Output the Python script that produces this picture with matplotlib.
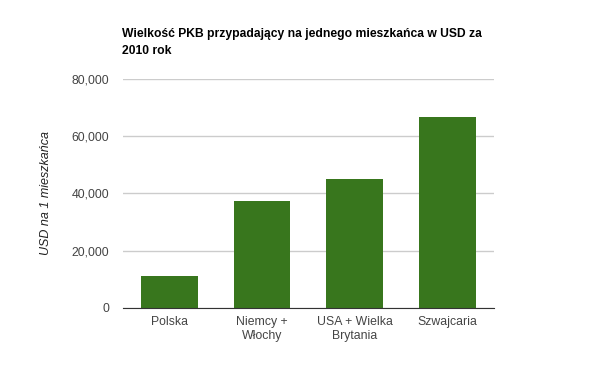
import matplotlib
matplotlib.use("Agg")
import matplotlib.pyplot as plt
from matplotlib.ticker import FuncFormatter

plt.rcParams['font.family'] = ['Liberation Sans', 'DejaVu Sans']

categories = ["Polska", "Niemcy +\nWłochy", "USA + Wielka\nBrytania", "Szwajcaria"]
values = [11200, 37350, 45000, 66800]
yticks = [0, 20000, 40000, 60000, 80000]

fig = plt.figure(figsize=(6, 3.71), dpi=100)
ax = fig.add_axes([0.205, 0.17, 0.618, 0.617])

ax.bar(range(len(categories)), values, 0.613, color="#38761d", zorder=3)

ax.set_xlim(-0.5, len(categories) - 0.5)
ax.set_ylim(0, 80000)
ax.set_yticks(yticks)
ax.yaxis.set_major_formatter(FuncFormatter(lambda v, p: f"{int(v):,}"))
ax.set_xticks(range(len(categories)))
ax.set_xticklabels(categories)
ax.grid(axis="y", color="#cccccc", linewidth=1, zorder=0)
ax.tick_params(axis="both", length=0, labelsize=8.8, colors="#444444")
ax.tick_params(axis="y", pad=10)
ax.tick_params(axis="x", pad=6)
for s in ["top", "right", "left"]:
    ax.spines[s].set_visible(False)
ax.spines["bottom"].set_color("#333333")
ax.spines["bottom"].set_zorder(4)

ax.set_ylabel("USD na 1 mieszkańca", style="italic", fontsize=9, color="#222222", labelpad=14)

fig.text(0.203, 0.925, "Wielkość PKB przypadający na jednego mieszkańca w USD za\n2010 rok",
         fontsize=8.7, fontweight="bold", color="#000000", ha="left", va="top", linespacing=1.55)

fig.savefig("out.png", dpi=100)
